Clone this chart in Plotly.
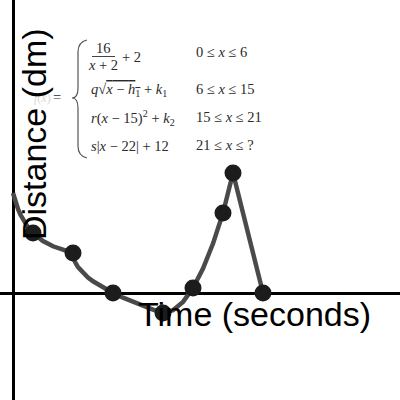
import plotly.graph_objects as go

# Curve (time in s, distance in dm)
curve_x = [0, 0.25, 0.5, 0.75, 1, 1.5, 2, 2.5, 3, 4, 5, 6,
           6.05, 6.2, 6.5, 7, 7.5, 8, 9, 10, 11, 12, 13, 14, 15,
           16, 17, 18, 19, 20, 21, 22, 25]
curve_y = [10, 9.11, 8.4, 7.82, 7.33, 6.57, 6, 5.56, 5.2, 4.67, 4.29, 4,
           3.55, 3.11, 2.59, 2, 1.55, 1.17, 0.54, 0, -0.47, -0.9, -1.29, -1.66, -2,
           -1.72, -0.89, 0.5, 2.44, 4.94, 8, 12, 0]

# Plotted points
point_x = [2, 6, 10, 15, 18, 21, 22, 25]
point_y = [6, 4, 0, -2, 0.5, 8, 12, 0]

# Piecewise definition shown in the top-left
pieces = [
    "<i>q</i>√<span style='text-decoration:overline'><i>x</i> − <i>h</i><sub>1</sub></span> + <i>k</i><sub>1</sub>",
    "<i>r</i>(<i>x</i> − 15)<sup>2</sup> + <i>k</i><sub>2</sub>",
    "<i>s</i>|<i>x</i> − 22| + 12",
]
conditions = [
    "0 ≤ <i>x</i> ≤ 6",
    "6 ≤ <i>x</i> ≤ 15",
    "15 ≤ <i>x</i> ≤ 21",
    "21 ≤ <i>x</i> ≤ ?",
]

fig = go.Figure()

fig.add_trace(go.Scatter(
    x=curve_x, y=curve_y, mode="lines",
    line=dict(color="#4a4a4a", width=4.5),
    hoverinfo="skip",
))
fig.add_trace(go.Scatter(
    x=point_x, y=point_y, mode="markers",
    marker=dict(color="#1c1c1c", size=17),
))


def px(x):
    return x / 400


def py(y):
    return 1 - y / 400


eq_font = dict(family="Liberation Serif", size=14.5, color="#2a2a2a")
ann = []
# fraction 16/(x+2) + 2
ann.append(dict(x=px(103), y=py(48), text="16", font=eq_font))
ann.append(dict(x=px(103), y=py(65), text="<i>x</i> + 2", font=eq_font))
ann.append(dict(x=px(131), y=py(57), text="+ 2", font=eq_font))
for i, t in enumerate(pieces):
    ann.append(dict(x=px(89), y=py([90, 118, 146][i]), text=t, font=eq_font,
                    xanchor="left"))
for i, t in enumerate(conditions):
    ann.append(dict(x=px(194), y=py([52, 89, 117, 145][i]), text=t, font=eq_font,
                    xanchor="left"))
ann.append(dict(x=px(57), y=py(97), text="=", font=eq_font))
ann.append(dict(x=px(42), y=py(98), text="<i>f</i>(<i>x</i>)",
                font=dict(family="Liberation Serif", size=12, color="#d8d8d8")))

label_font = dict(family="Arial", size=34, color="black")
ann.append(dict(x=px(254), y=py(314), text="Time (seconds)", font=label_font))
ann.append(dict(x=px(34), y=py(134), text="Distance (dm)", font=label_font,
                textangle=-90))

for a in ann:
    a.setdefault("xanchor", "center")
    a["yanchor"] = "middle"
    a["xref"] = "paper"
    a["yref"] = "paper"
    a["showarrow"] = False

brace = ("M {0},{1} Q {2},{3} {2},{4} L {2},{5} Q {2},{6} {7},{6} "
         "Q {2},{6} {2},{8} L {2},{9} Q {2},{10} {0},{11}").format(
    px(87), py(40), px(78), py(42), py(52), py(88), py(98), px(72),
    py(108), py(146), py(156), py(158))

fig.update_layout(
    width=400, height=400,
    margin=dict(l=0, r=0, t=0, b=0),
    plot_bgcolor="white", paper_bgcolor="white",
    showlegend=False,
    annotations=ann,
    shapes=[
        dict(type="line", xref="paper", yref="paper",
             x0=px(92), x1=px(115), y0=py(56.5), y1=py(56.5),
             line=dict(color="#444444", width=1)),
        dict(type="path", xref="paper", yref="paper", path=brace,
             line=dict(color="#555555", width=1.2)),
    ],
    xaxis=dict(range=[-1.3, 38.7], showgrid=False, showticklabels=False,
               ticks="", zeroline=True, zerolinecolor="black",
               zerolinewidth=3, fixedrange=True),
    yaxis=dict(range=[-10.7, 29.3], showgrid=False, showticklabels=False,
               ticks="", zeroline=True, zerolinecolor="black",
               zerolinewidth=3, fixedrange=True),
)

# page body has a default 8px margin; drop it so the figure fills the window
fig.write_html("out.html", config={"displayModeBar": False},
               post_script="document.body.style.margin='0px';")
